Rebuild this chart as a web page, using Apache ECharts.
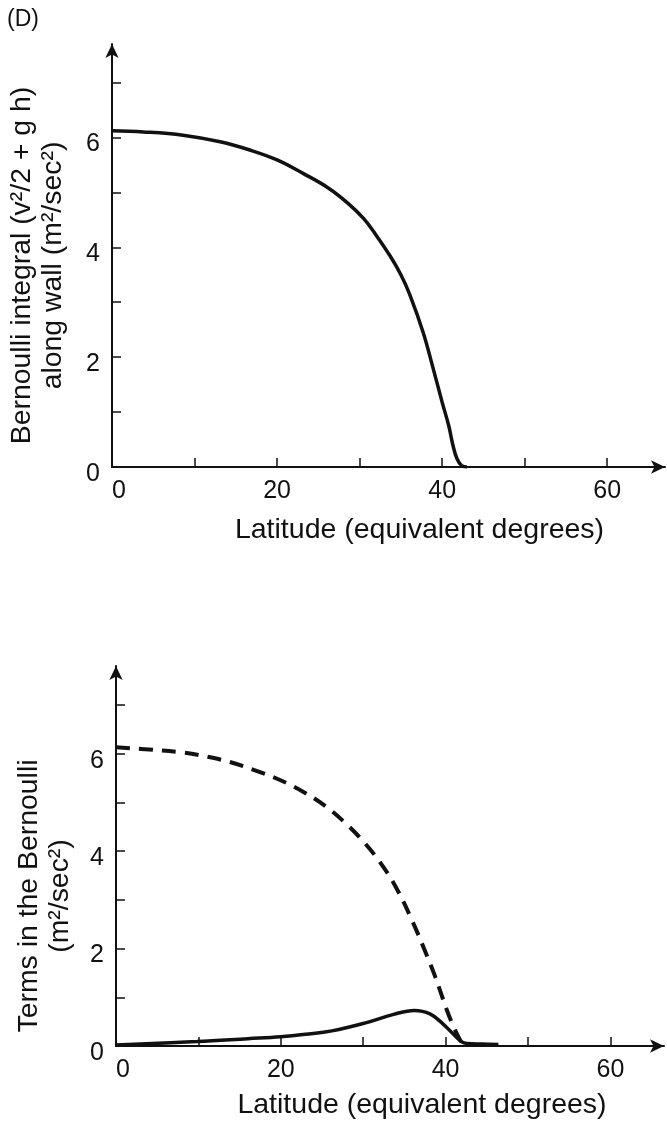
<!DOCTYPE html>
<html>
<head>
<meta charset="utf-8">
<script src="https://cdn.jsdelivr.net/npm/echarts@6/dist/echarts.min.js"></script>
<style>
  html, body { margin: 0; background: #fff; }
  #main { width: 667px; height: 1122px; }
</style>
</head>
<body>
<div id="main"></div>
<script>
// panel D, upper: Bernoulli integral along wall
var wallLat = [0, 3.8, 8.6, 13.1, 16.7, 20, 23.2, 26.2, 28.6, 30.5, 32, 33.7, 35, 36.1, 37.7, 38.9, 40.0, 40.8, 41.3, 41.8, 42.4, 43];
var wallB   = [6.12, 6.10, 6.04, 5.92, 5.77, 5.59, 5.34, 5.08, 4.80, 4.52, 4.22, 3.84, 3.50, 3.13, 2.45, 1.80, 1.18, 0.75, 0.40, 0.15, 0.02, 0];

// lower: terms in the Bernoulli (dashed = g h, solid = v^2/2)
var ghLat = [0, 4.5, 7.8, 11, 13.8, 16.7, 19.9, 22.7, 25.6, 28, 30, 32, 34, 36, 37.5, 38.7, 40.1, 40.9, 41.7, 42.2];
var ghVal = [6.13, 6.08, 6.03, 5.94, 5.83, 5.67, 5.46, 5.22, 4.90, 4.55, 4.20, 3.78, 3.25, 2.55, 1.95, 1.44, 0.76, 0.42, 0.14, 0];
var keLat = [0, 9.8, 16, 20, 23, 26.2, 30.4, 33.7, 36.2, 38.1, 39.7, 40.9, 41.9, 42.6, 44.5, 46.4];
var keVal = [0.02, 0.09, 0.15, 0.19, 0.24, 0.31, 0.48, 0.65, 0.73, 0.66, 0.45, 0.25, 0.09, 0.05, 0.04, 0.03];

var xTickVals  = [10, 20, 30, 40, 50, 60];
var xLabelVals = [0, 20, 40, 60];
var yTickVals  = [1, 2, 3, 4, 5, 6, 7];
var yLabelVals = [0, 2, 4, 6];

var ink = '#111';
var font = '"Liberation Sans", Arial, Helvetica, sans-serif';

function pairs(xs, ys) {
  return xs.map(function (x, i) { return [x, ys[i]]; });
}

function xAxisFor(grid, max, gap, padLeft) {
  return {
    gridIndex: grid, type: 'value', min: 0, max: max,
    name: 'Latitude (equivalent degrees)',
    nameLocation: 'middle', nameGap: gap,
    nameTextStyle: { color: ink, fontSize: 28.5, fontFamily: font, padding: [0, 0, 0, padLeft] },
    axisLine: { lineStyle: { color: ink, width: 2 }, symbol: ['none', 'arrow'], symbolSize: [10, 14] },
    axisTick: { inside: true, length: 9, lineStyle: { color: ink, width: 1.5 }, customValues: xTickVals },
    axisLabel: { color: ink, fontSize: 25, fontFamily: font, margin: 12, customValues: xLabelVals, alignMinLabel: 'left' },
    splitLine: { show: false }
  };
}

function yAxisFor(grid, max, name, gap, padRight) {
  return {
    gridIndex: grid, type: 'value', min: 0, max: max,
    name: name,
    nameLocation: 'middle', nameRotate: 90, nameGap: gap,
    nameTextStyle: { color: ink, fontSize: 28.4, lineHeight: 31, fontFamily: font, padding: [0, padRight, 0, 0] },
    axisLine: { lineStyle: { color: ink, width: 2 }, symbol: ['none', 'arrow'], symbolSize: [10, 14] },
    axisTick: { inside: true, length: 9, lineStyle: { color: ink, width: 1.5 }, customValues: yTickVals },
    axisLabel: {
      margin: 12, customValues: yLabelVals,
      formatter: function (v) { return '{s|' + v + '}'; },
      rich: { s: { color: ink, fontSize: 25, fontFamily: font, padding: [14, 0, 0, 0] } }
    },
    splitLine: { show: false }
  };
}

var myChart = echarts.init(document.getElementById('main'));
myChart.setOption({
  animation: false,
  backgroundColor: '#fff',
  title: { text: '(D)', left: 2, top: 3, textStyle: { color: ink, fontSize: 23, fontWeight: 'normal', fontFamily: font } },
  grid: [
    { left: 112, right: 2, top: 44, bottom: 655, outerBoundsMode: 'none' },
    { left: 116, right: 3, top: 666, bottom: 76, outerBoundsMode: 'none' }
  ],
  xAxis: [xAxisFor(0, 67, 49, 62), xAxisFor(1, 66.5, 45, 64)],
  yAxis: [
    yAxisFor(0, 7.7, 'Bernoulli integral (v²/2 + g h)\nalong wall (m²/sec²)', 43, 20),
    yAxisFor(1, 7.8, 'Terms in the Bernoulli\n(m²/sec²)', 40, 80)
  ],
  series: [
    {
      type: 'line', xAxisIndex: 0, yAxisIndex: 0, data: pairs(wallLat, wallB),
      smooth: 0.4, showSymbol: false,
      lineStyle: { color: ink, width: 3.5 }
    },
    {
      type: 'line', xAxisIndex: 1, yAxisIndex: 1, data: pairs(ghLat, ghVal),
      smooth: 0.4, showSymbol: false,
      lineStyle: { color: ink, width: 4, type: [14, 9] }
    },
    {
      type: 'line', xAxisIndex: 1, yAxisIndex: 1, data: pairs(keLat, keVal),
      smooth: 0.4, showSymbol: false,
      lineStyle: { color: ink, width: 3.5 }
    }
  ]
});
</script>
</body>
</html>
